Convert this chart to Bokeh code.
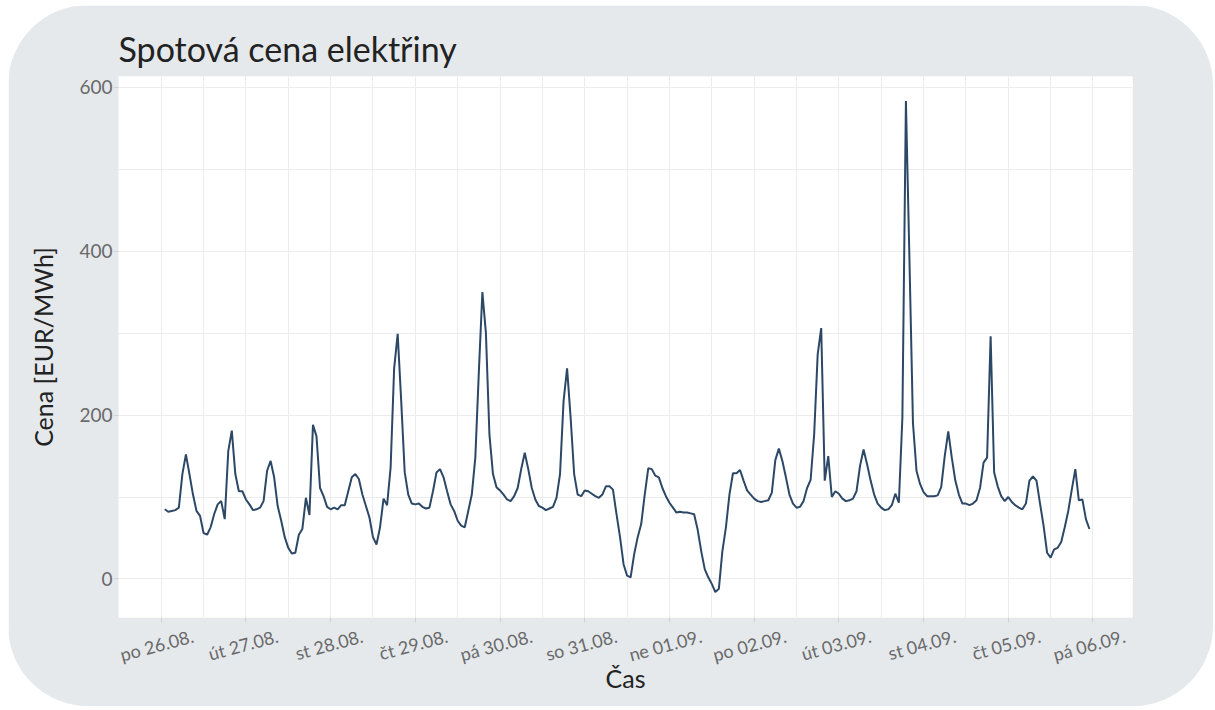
import math
from bokeh.plotting import figure
from bokeh.models import FixedTicker, Range1d
from bokeh.embed import file_html
from bokeh.resources import INLINE

# Hourly spot prices [EUR/MWh]; 26.08. starts at 01:00, other days 00:00-23:00
d_26_08 = [85, 82, 83, 84, 87, 128, 152, 128, 103, 83, 77, 56, 54, 63, 79, 91, 95, 73, 156, 181, 128, 107, 107]
d_27_08 = [97, 91, 84, 85, 87, 95, 132, 144, 124, 89, 71, 51, 38, 31, 32, 54, 61, 99, 78, 188, 174, 111, 101, 88]
d_28_08 = [85, 87, 85, 90, 90, 107, 124, 128, 122, 103, 89, 75, 51, 42, 63, 98, 90, 136, 257, 299, 217, 130, 103, 92]
d_29_08 = [91, 92, 88, 86, 87, 107, 130, 134, 124, 107, 91, 83, 71, 65, 63, 83, 103, 148, 253, 350, 300, 176, 128, 112]
d_30_08 = [108, 103, 97, 95, 101, 111, 134, 154, 134, 111, 97, 89, 87, 84, 86, 88, 99, 128, 217, 257, 197, 128, 103, 101]
d_31_08 = [108, 107, 104, 101, 99, 103, 113, 113, 109, 79, 51, 18, 4, 2, 30, 51, 67, 103, 135, 134, 126, 124, 111, 101]
d_01_09 = [93, 87, 81, 82, 81, 81, 80, 79, 60, 34, 12, 2, -6, -16, -12, 34, 63, 103, 129, 129, 133, 120, 108, 103]
d_02_09 = [98, 95, 94, 95, 96, 105, 145, 159, 144, 124, 103, 92, 87, 88, 95, 111, 121, 176, 274, 306, 120, 150, 100, 107]
d_03_09 = [104, 98, 95, 96, 98, 107, 138, 158, 140, 120, 103, 92, 87, 84, 85, 90, 104, 93, 197, 583, 390, 190, 132, 116]
d_04_09 = [106, 101, 101, 101, 102, 112, 150, 180, 148, 120, 103, 92, 92, 90, 92, 96, 111, 142, 148, 296, 130, 113, 101, 95]
d_05_09 = [100, 94, 90, 87, 85, 92, 120, 125, 120, 92, 65, 32, 26, 36, 38, 45, 63, 83, 109, 134, 96, 97, 73, 61]

day_labels = ["po 26.08.", "út 27.08.", "st 28.08.", "čt 29.08.", "pá 30.08.", "so 31.08.",
              "ne 01.09.", "po 02.09.", "út 03.09.", "st 04.09.", "čt 05.09.", "pá 06.09."]
y_tick_values = [0, 200, 400, 600]

prices = (d_26_08 + d_27_08 + d_28_08 + d_29_08 + d_30_08 + d_31_08 + d_01_09
          + d_02_09 + d_03_09 + d_04_09 + d_05_09)
# hours since 26.08. 00:00 (first sample at 01:00)
hours = [1 + i for i in range(len(prices))]

FONT = "Lato"
BG = "#e5e9ec"
LABEL_SHIFT = 9  # hours: rotated labels are right-anchored, shift so they sit centred on the day tick

p = figure(width=1205, height=701, output_backend="svg", toolbar_location=None,
           x_range=Range1d(-12.1, 275.2), y_range=Range1d(-47, 613),
           min_border_left=110, min_border_right=81, min_border_top=71, min_border_bottom=89)

p.line(hours, prices, line_color="#2c4866", line_width=2)

p.border_fill_color = BG
p.background_fill_color = "white"
p.outline_line_color = None
p.styles = {"border-radius": "80px", "overflow": "hidden", "margin-left": "8px", "margin-top": "5px"}

p.title.text = "Spotová cena elektřiny"
p.title.text_font = FONT
p.title.text_font_size = "34px"
p.title.text_font_style = "normal"
p.title.text_color = "#222222"
p.title.align = "left"
p.title.standoff = 16

day_ticks = [24 * i for i in range(len(day_labels))]
half_ticks = [24 * i - 12 for i in range(len(day_labels) + 1)]
label_ticks = [t + LABEL_SHIFT for t in day_ticks]

xa = p.xaxis[0]
xa.ticker = FixedTicker(ticks=label_ticks, minor_ticks=day_ticks)
xa.major_label_overrides = {t: lab for t, lab in zip(label_ticks, day_labels)}
xa.major_label_orientation = math.radians(15)
xa.major_label_text_font_size = "18px"
xa.major_label_standoff = 13
xa.major_tick_line_color = None
xa.minor_tick_line_color = "#cfd3d6"
xa.minor_tick_in = 0
xa.minor_tick_out = 5
xa.axis_label = "Čas"
xa.axis_label_standoff = -16

ya = p.yaxis[0]
ya.ticker = FixedTicker(ticks=y_tick_values)
ya.axis_label = "Cena [EUR/MWh]"
ya.major_label_text_font_size = "19px"
ya.major_label_standoff = 1
ya.axis_label_standoff = 18
ya.major_tick_line_color = "#cfd3d6"
ya.minor_tick_line_color = None

for ax in (xa, ya):
    ax.axis_line_color = None
    ax.major_tick_in = 0
    ax.major_tick_out = 5
    ax.major_label_text_font = FONT
    ax.major_label_text_color = "#6a6a6a"
    ax.axis_label_text_font = FONT
    ax.axis_label_text_font_size = "25px"
    ax.axis_label_text_font_style = "normal"
    ax.axis_label_text_color = "#222222"

p.xgrid.ticker = FixedTicker(ticks=sorted(day_ticks + half_ticks))
p.ygrid.ticker = FixedTicker(ticks=[0, 100, 200, 300, 400, 500, 600])
p.xgrid.grid_line_color = "#ececec"
p.ygrid.grid_line_color = "#ececec"

open("out.html", "w").write(file_html(p, INLINE))
